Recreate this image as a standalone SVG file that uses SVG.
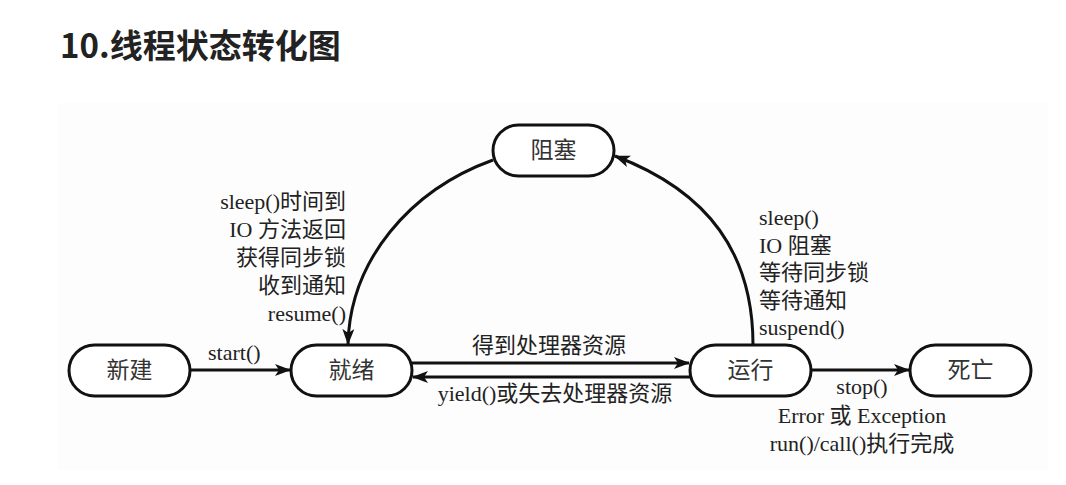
<svg xmlns="http://www.w3.org/2000/svg" width="1066" height="485" viewBox="0 0 1066 485">
  <style>
    .title { font-family: "Noto Sans CJK SC", "Noto Sans", sans-serif; font-weight: 700; font-size: 33px; fill: #222; }
    .node rect { fill: #fff; stroke: #111; stroke-width: 3; }
    .node text { font-family: "Liberation Serif", "Noto Sans CJK SC", serif; font-size: 23px; fill: #333; text-anchor: middle; dominant-baseline: central; }
    .lbl { font-family: "Liberation Serif", "Noto Sans CJK SC", serif; font-size: 22px; fill: #222; }
    .edge { fill: none; stroke: #111; stroke-width: 3; marker-end: url(#arrow); }
  </style>
  <defs>
    <marker id="arrow" viewBox="0 0 16 12" refX="15" refY="6" markerWidth="16" markerHeight="12" markerUnits="userSpaceOnUse" orient="auto">
      <path d="M0,0 L16,6 L0,12 L4,6 z" fill="#111"/>
    </marker>
  </defs>

  <rect x="0" y="0" width="1066" height="485" fill="#fff"/>
  <!-- diagram panel -->
  <rect x="58" y="103" width="990" height="367" fill="#fdfdfd"/>

  <text class="title" x="60" y="58">10.线程状态转化图</text>

  <!-- connectors -->
  <g id="connectors">
    <line class="edge" x1="190" y1="370" x2="290" y2="370"/>
    <line class="edge" x1="412" y1="363" x2="689" y2="363"/>
    <line class="edge" x1="690" y1="377" x2="413" y2="377"/>
    <line class="edge" x1="811" y1="370" x2="909" y2="370"/>
    <path class="edge" d="M753,345 C753,255 710,192 615,156"/>
    <path class="edge" d="M493,160 C410,190 350,260 348,344"/>

    <text class="lbl" x="208" y="360">start()</text>
    <text class="lbl" x="549" y="353" text-anchor="middle">得到处理器资源</text>
    <text class="lbl" x="555" y="401" text-anchor="middle">yield()或失去处理器资源</text>

    <text class="lbl" x="862" y="394" text-anchor="middle">stop()</text>
    <text class="lbl" x="862" y="423" text-anchor="middle">Error 或 Exception</text>
    <text class="lbl" x="862" y="451" text-anchor="middle">run()/call()执行完成</text>

    <g text-anchor="end">
      <text class="lbl" x="346" y="209">sleep()时间到</text>
      <text class="lbl" x="346" y="237">IO 方法返回</text>
      <text class="lbl" x="346" y="265">获得同步锁</text>
      <text class="lbl" x="346" y="293">收到通知</text>
      <text class="lbl" x="346" y="321">resume()</text>
    </g>

    <text class="lbl" x="759" y="225">sleep()</text>
    <text class="lbl" x="759" y="253">IO 阻塞</text>
    <text class="lbl" x="759" y="280">等待同步锁</text>
    <text class="lbl" x="759" y="308">等待通知</text>
    <text class="lbl" x="759" y="335">suspend()</text>
  </g>

  <!-- states -->
  <g id="node-new" class="node">
    <rect x="69" y="345" width="121" height="51" rx="25.5"/>
    <text x="129.5" y="370.5">新建</text>
  </g>
  <g id="node-ready" class="node">
    <rect x="291" y="345" width="121" height="51" rx="25.5"/>
    <text x="351.5" y="370.5">就绪</text>
  </g>
  <g id="node-running" class="node">
    <rect x="690" y="345" width="121" height="51" rx="25.5"/>
    <text x="750.5" y="370.5">运行</text>
  </g>
  <g id="node-dead" class="node">
    <rect x="910" y="345" width="121" height="51" rx="25.5"/>
    <text x="970.5" y="370.5">死亡</text>
  </g>
  <g id="node-blocked" class="node">
    <rect x="493" y="125" width="121" height="51" rx="25.5"/>
    <text x="553.5" y="150.5">阻塞</text>
  </g>
</svg>
